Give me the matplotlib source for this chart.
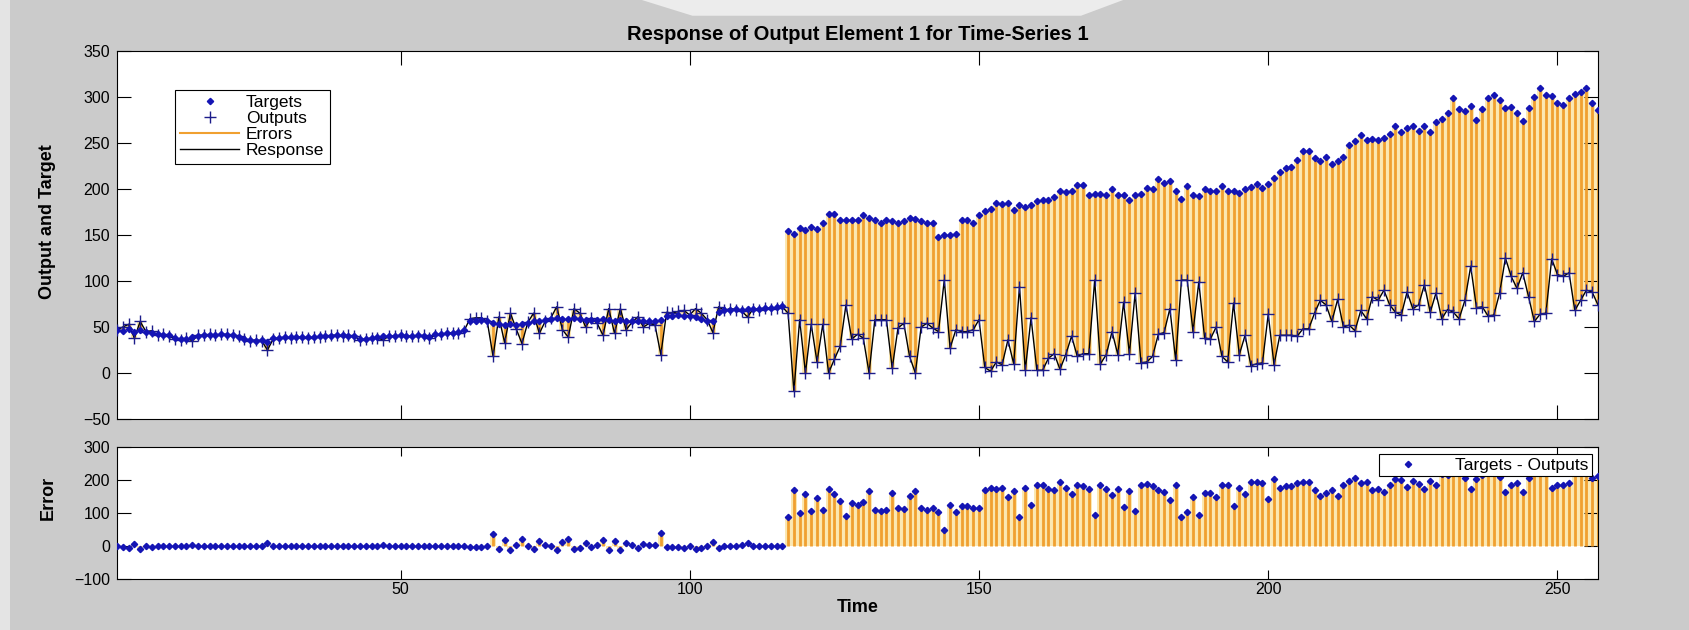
import numpy as np
import matplotlib
matplotlib.use("Agg")
import matplotlib.pyplot as plt
from matplotlib.lines import Line2D
from matplotlib.patches import Polygon, Rectangle

plt.rcParams['font.family'] = ['Liberation Sans', 'DejaVu Sans']

# ---------------- data ----------------
time = list(range(1, 258))

targets = [
    47, 46, 48, 45, 47, 45, 44, 42, 41, 41,
    38, 37, 37, 39, 40, 41, 41, 41, 42, 41,
    41, 39, 37, 36, 35, 36, 34, 38, 38, 39,
    39, 39, 39, 39, 39, 40, 40, 40, 41, 41,
    40, 40, 37, 37, 38, 39, 40, 40, 40, 41,
    40, 40, 41, 40, 39, 42, 42, 43, 44, 45,
    47, 56, 57, 58, 56, 54, 53, 52, 53, 52,
    53, 54, 56, 57, 58, 59, 60, 59, 59, 60,
    59, 58, 58, 58, 59, 58, 57, 58, 57, 57,
    56, 56, 57, 56, 58, 62, 62, 63, 62, 62,
    61, 59, 57, 56, 66, 68, 69, 70, 69, 70,
    70, 70, 71, 71, 72, 73,
    154, 151, 158, 156, 159, 157, 163, 173, 173, 166,
    166, 166, 166, 172, 168, 166, 163, 166, 165, 163,
    165, 169, 167, 165, 163, 163, 148, 150, 150, 151,
    166, 166, 163, 172, 176, 178, 185, 184, 185, 177,
    183, 180, 183, 187, 188, 188, 191, 198, 197, 198,
    204, 204, 193, 195, 195, 193, 200, 194, 194, 188,
    194, 195, 201, 200, 211, 207, 209, 198, 189, 203,
    193, 192, 200, 198, 198, 203, 198, 198, 196, 200,
    202, 205, 201, 205, 212, 218, 223, 224, 232, 241,
    241, 234, 230, 235, 227, 230, 235, 248, 252, 259,
    253, 254, 253, 255, 260, 268, 262, 266, 268, 263,
    269, 262, 273, 276, 283, 299, 287, 285, 290, 275,
    287, 299, 302, 297, 288, 289, 283, 274, 288, 300,
    310, 302, 301, 293, 291, 299, 303, 306, 310, 293, 286,
]

outputs = [
    47, 50, 53, 38, 56, 45, 46, 41, 42, 40,
    37, 36, 38, 35, 41, 41, 42, 41, 42, 42,
    41, 40, 37, 35, 36, 35, 25, 37, 38, 39,
    38, 39, 39, 38, 39, 39, 40, 41, 41, 40,
    41, 40, 36, 37, 38, 38, 36, 40, 40, 41,
    40, 40, 40, 41, 38, 41, 42, 43, 44, 44,
    46, 59, 60, 60, 56, 18, 61, 33, 65, 48,
    32, 55, 65, 43, 56, 60, 72, 47, 39, 70,
    65, 50, 60, 54, 41, 70, 43, 70, 47, 55,
    61, 50, 54, 52, 20, 66, 65, 67, 68, 63,
    70, 65, 58, 44, 72, 68, 70, 69, 67, 61,
    70, 69, 71, 70, 71, 72,
    65, -20, 58, 0, 53, 12, 53, 0, 15, 29,
    74, 37, 42, 38, 0, 58, 58, 58, 5, 49,
    54, 18, 0, 50, 54, 49, 45, 101, 27, 47,
    45, 45, 47, 58, 6, 2, 12, 9, 36, 10,
    94, 3, 60, 3, 3, 16, 21, 4, 20, 40,
    18, 21, 21, 101, 10, 20, 45, 20, 77, 21,
    87, 11, 12, 18, 42, 44, 70, 14, 101, 101,
    45, 99, 38, 37, 50, 18, 12, 76, 20, 41,
    8, 10, 11, 64, 9, 41, 41, 41, 40, 48,
    48, 65, 79, 74, 56, 80, 50, 52, 46, 68,
    59, 83, 79, 90, 74, 66, 63, 88, 70, 74,
    96, 66, 87, 59, 69, 66, 59, 79, 116, 71,
    72, 62, 63, 87, 125, 105, 92, 109, 83, 56,
    64, 65, 124, 107, 105, 109, 68, 79, 90, 88, 74,
]

x_ticks = [50, 100, 150, 200, 250]
y_ticks_top = [-50, 0, 50, 100, 150, 200, 250, 300, 350]
y_ticks_err = [-100, 0, 100, 200, 300]

title_text = "Response of Output Element 1 for Time-Series 1"

# ---------------- styles ----------------
BG = '#cbcbcb'
ORANGE = '#f0a030'
PALE = '#fbe6ad'
TGT = '#1414b4'
OUT = '#1c1c8a'

t = np.array(time)
tg = np.array(targets, dtype=float)
op = np.array(outputs, dtype=float)
err = tg - op

fig = plt.figure(figsize=(16.89, 6.30), dpi=100, facecolor=BG)

# light decorative shapes of the screenshot background
fig.patches.append(Polygon([[0.38, 1.0], [0.665, 1.0], [0.64, 0.975], [0.41, 0.975]],
                           closed=True, transform=fig.transFigure,
                           facecolor='#ececec', edgecolor='none', zorder=0))
fig.patches.append(Rectangle((0, 0), 0.006, 1, transform=fig.transFigure,
                             facecolor='#e4e4e4', edgecolor='none', zorder=0))

ax1 = fig.add_axes([0.0693, 0.3349, 0.8768, 0.5841])
ax2 = fig.add_axes([0.0693, 0.0810, 0.8768, 0.2095])

# top panel
ax1.vlines(t, op, tg, colors=PALE, lw=4.2, zorder=1)
ax1.vlines(t, op, tg, colors=ORANGE, lw=2.0, zorder=2)
ax1.plot(t, op, color='black', lw=1.0, zorder=3)
ax1.plot(t, tg, ls='none', marker='D', ms=3.2, color=TGT, zorder=5)
ax1.plot(t, op, ls='none', marker='+', ms=8, mew=1.0, color=OUT, zorder=4)

ax1.set_xlim(1, 257)
ax1.set_ylim(-50, 350)
ax1.set_xticks(x_ticks)
ax1.set_xticklabels([])
ax1.set_yticks(y_ticks_top)
ax1.tick_params(direction='in', top=True, right=True, length=10, width=0.8,
                labelsize=11.5, pad=5)
ax1.set_title(title_text, fontsize=14.5, fontweight='bold', pad=8)

handles = [
    Line2D([], [], ls='none', marker='D', ms=3.2, color=TGT),
    Line2D([], [], ls='none', marker='+', ms=8, mew=1.0, color=OUT),
    Line2D([], [], color=ORANGE, lw=1.5),
    Line2D([], [], color='black', lw=1.0),
]
leg = ax1.legend(handles, ['Targets', 'Outputs', 'Errors', 'Response'],
                 loc='upper left', bbox_to_anchor=(0.039, 0.894), borderaxespad=0,
                 fancybox=False, framealpha=1, edgecolor='black', fontsize=12.5,
                 handlelength=3.4, handletextpad=0.4, labelspacing=0.05,
                 borderpad=0.3)
leg.get_frame().set_linewidth(0.8)

# bottom panel
ax2.vlines(t, 0, err, colors=PALE, lw=4.2, zorder=1)
ax2.vlines(t, 0, err, colors=ORANGE, lw=2.0, zorder=2)
ax2.plot(t, err, ls='none', marker='D', ms=3.2, color=TGT, zorder=4,
         label='Targets - Outputs')
ax2.set_xlim(1, 257)
ax2.set_ylim(-100, 300)
ax2.set_xticks(x_ticks)
ax2.set_yticks(y_ticks_err)
ax2.tick_params(axis='x', direction='in', top=True, length=6.5, width=0.8,
                labelsize=11.5, pad=2)
ax2.tick_params(axis='y', direction='in', right=True, length=10, width=0.8,
                labelsize=11.5, pad=5)
leg2 = ax2.legend(loc='upper right', bbox_to_anchor=(0.996, 0.947), borderaxespad=0,
                  fancybox=False, framealpha=1, edgecolor='black', fontsize=12.5,
                  handlelength=3.0, handletextpad=1.2, borderpad=0.2)
leg2.get_frame().set_linewidth(0.8)

for ax in (ax1, ax2):
    for s in ax.spines.values():
        s.set_linewidth(0.8)

narrow = ['Liberation Sans Narrow', 'Liberation Sans', 'DejaVu Sans']
fig.text(0.0284, 0.6476, 'Output and Target', rotation=90, ha='center', va='center',
         fontsize=13, fontweight='bold', family=narrow)
fig.text(0.0284, 0.2095, 'Error', rotation=90, ha='center', va='center',
         fontsize=13, fontweight='bold', family=narrow)
fig.text(0.5077, 0.0365, 'Time', ha='center', va='center',
         fontsize=13, fontweight='bold', family=narrow)

fig.savefig('out.png', dpi=100, facecolor=BG)
